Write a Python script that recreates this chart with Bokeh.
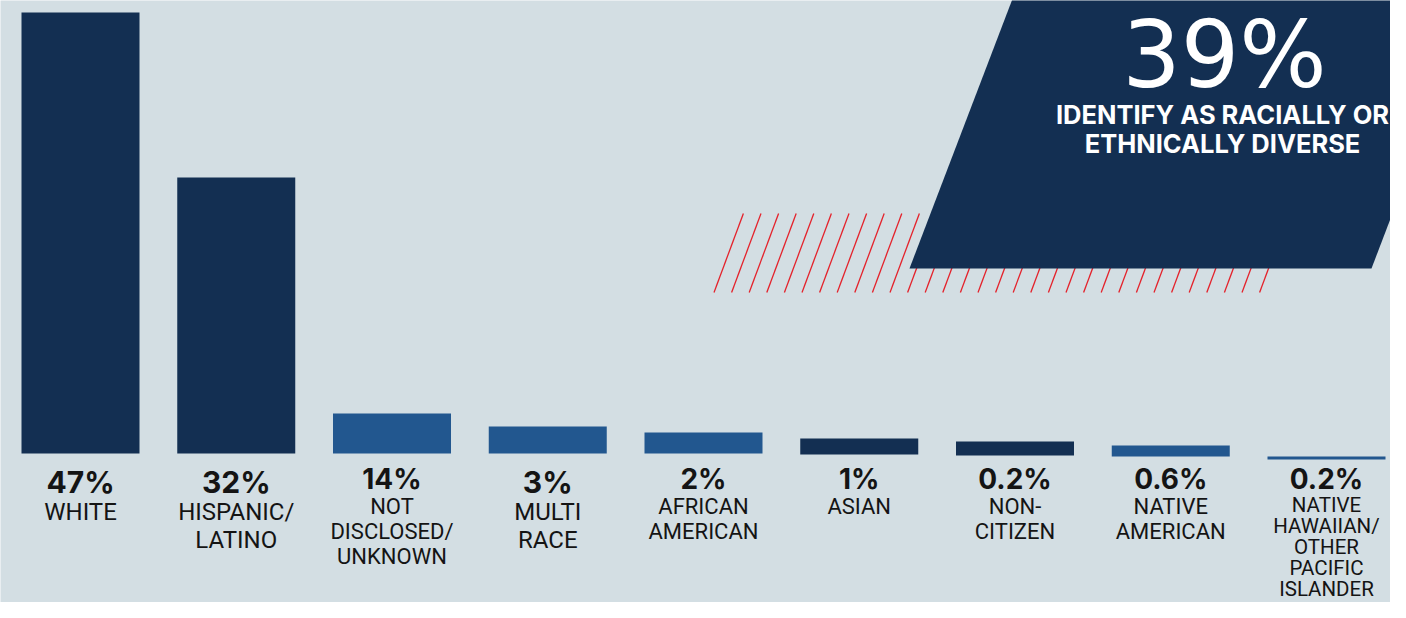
import numpy as np
from bokeh.plotting import figure
from bokeh.models import Range1d, ColumnDataSource
from bokeh.core.properties import value
from bokeh.embed import file_html
from bokeh.resources import INLINE

# ---------------- data (read from the graphic) ----------------
categories = ["WHITE", "HISPANIC/\nLATINO", "NOT\nDISCLOSED/\nUNKNOWN", "MULTI\nRACE",
              "AFRICAN\nAMERICAN", "ASIAN", "NON-\nCITIZEN", "NATIVE\nAMERICAN",
              "NATIVE\nHAWAIIAN/\nOTHER\nPACIFIC\nISLANDER"]
pct_labels = ["47%", "32%", "14%", "3%", "2%", "1%", "0.2%", "0.6%", "0.2%"]
bar_heights = [441, 276, 40, 27, 21, 16, 14, 11, 3]   # drawn bar heights, as in the graphic
bar_drop = [0, 0, 0, 0, 0, 1, 2, 3, 6]                # how far each bar sits below the common baseline
headline_value = "39%"
headline_text = ["IDENTIFY AS RACIALLY OR", "ETHNICALLY DIVERSE"]

# ---------------- styles ----------------
NAVY = "#132f52"
BLUE = "#22578f"
BG = "#d3dee3"
RED = "#e4222b"
INK = "#141414"
bar_colors = [NAVY, NAVY, BLUE, BLUE, BLUE, NAVY, NAVY, BLUE, BLUE]
big_group = [True, True, False, True, False, False, False, False, False]
first_line = [520, 520, 514, 520, 514, 514, 514, 514, 512]
line_gap = [28.3, 28.3, 25, 28.3, 25, 25, 25, 25, 21]
label_px = [24, 24, 22, 24, 22, 22, 22, 22, 20.5]
K = 0.36                 # renderer's baseline shift, as a fraction of font size

W, H = 1390, 602
STEP = 155.75            # px between bar centres
FIRST = 80               # px of first bar centre
BASE_Y = 453             # pixel row of the common baseline

p = figure(width=W, height=H, output_backend="svg", toolbar_location=None,
           x_range=Range1d(-FIRST / STEP, (W - FIRST) / STEP),
           y_range=Range1d(BASE_Y - H, BASE_Y),
           x_axis_location=None, y_axis_location=None, min_border=0,
           background_fill_color=BG, border_fill_color=BG, outline_line_color=None)
p.grid.visible = False
# decorative layer in pixels (y down)
p.extra_x_ranges = {"px": Range1d(0, W)}
p.extra_y_ranges = {"py": Range1d(H, 0)}

# red hatch
n_hatch = 32
xb = 713.5 + 17.6 * np.arange(n_hatch)
y_top, y_bot, slant = 213, 292, 0.372
p.segment(x0=xb, y0=np.full(n_hatch, y_bot), x1=xb + slant * (y_bot - y_top),
          y1=np.full(n_hatch, y_top), line_color=RED, line_width=1.3,
          x_range_name="px", y_range_name="py")

# navy parallelogram
p.patch(x=[909, 1371, 1371 + 0.382 * 278, 909 + 0.382 * 278], y=[268, 268, -10, -10],
        fill_color=NAVY, line_color=None, x_range_name="px", y_range_name="py")

big = 92
p.text(x=[1224], y=[88 - K * big], text=[headline_value], text_font=value("DejaVu Sans"),
       text_font_size=f"{big}px", text_color="white", text_align="center",
       text_baseline="alphabetic", x_range_name="px", y_range_name="py")
sub = 25.5
p.text(x=[1222, 1222], y=[123 - K * sub, 152 - K * sub], text=headline_text,
       text_font=value("Inter"), text_font_style="bold", text_font_size=f"{sub}px",
       text_color="white", text_align="center", text_baseline="alphabetic",
       x_range_name="px", y_range_name="py")

# bars
idx = np.arange(len(categories))
tops = [h - d for h, d in zip(bar_heights, bar_drop)]
bots = [-d for d in bar_drop]
src = ColumnDataSource(dict(x=idx, top=tops, bottom=bots, color=bar_colors))
p.vbar(x="x", top="top", bottom="bottom", width=118 / STEP, fill_color="color",
       line_color=None, source=src)

# percentage labels
pct_px = [30 if g else 28 for g in big_group]
pct_y = [BASE_Y - ((492 if g else 489) - K * s) for g, s in zip(big_group, pct_px)]
p.text(x=idx, y=pct_y, text=pct_labels, text_font=value("Inter"), text_font_style="bold",
       text_font_size=[f"{s}px" for s in pct_px], text_color=INK, text_align="center",
       text_baseline="alphabetic")

# category labels, one glyph per line
lx, ly, lt, ls = [], [], [], []
for i, name in enumerate(categories):
    for j, line in enumerate(name.split("\n")):
        lx.append(i)
        ly.append(BASE_Y - (first_line[i] + j * line_gap[i] - K * label_px[i]))
        lt.append(line)
        ls.append(f"{label_px[i]}px")
p.text(x=lx, y=ly, text=lt, text_font=value("Roboto"), text_font_size=ls,
       text_color=INK, text_align="center", text_baseline="alphabetic")

open("out.html", "w").write(file_html(p, INLINE))
